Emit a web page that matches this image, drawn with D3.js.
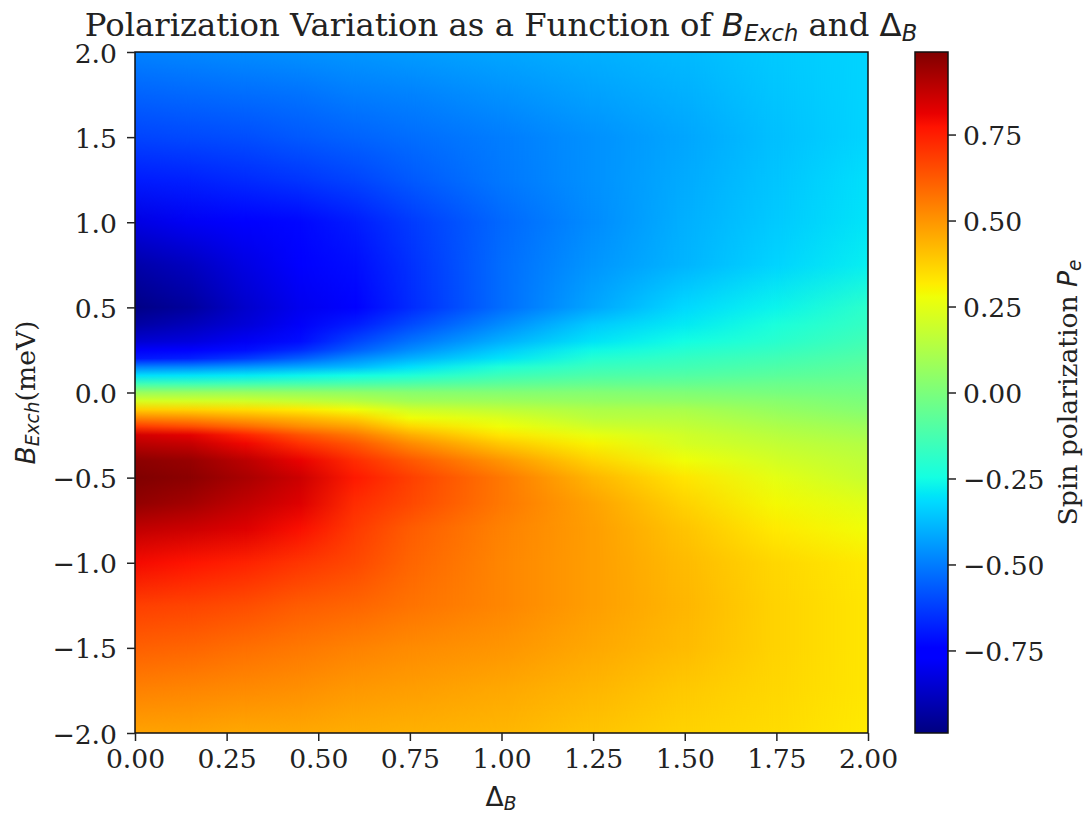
<!DOCTYPE html>
<html>
<head>
<meta charset="utf-8">
<style>
	html, body { margin: 0; padding: 0; background: #fff; }
	svg { display: block; }
	text { font-family: 'DejaVu Serif'; fill: #222; }
	.math { font-family: 'DejaVu Sans'; font-style: italic; }
	.mathup { font-family: 'DejaVu Sans'; }
</style>
<script src="https://cdn.jsdelivr.net/npm/d3@7"></script>
</head>
<body>
<svg width="1087" height="815"></svg>
<script>
const deltaValues = [0, 0.15, 0.3, 0.45, 0.6, 0.75, 1, 1.25, 1.5, 1.75, 2]
const exchValues = [2, 1.75, 1.5, 1.25, 1, 0.75, 0.5, 0.4, 0.3, 0.25, 0.2, 0.15, 0.1, 0.05, 0, -0.05, -0.1, -0.15, -0.2, -0.25, -0.3, -0.4, -0.5, -0.65, -0.8, -1, -1.25, -1.5, -1.75, -2]

// one row per exchValues entry, one column per deltaValues entry
const polarization = [
	[-.49, -.48, -.47, -.46, -.45, -.44, -.42, -.40, -.38, -.35, -.33],
	[-.55, -.54, -.53, -.52, -.50, -.49, -.46, -.43, -.40, -.36, -.33],
	[-.61, -.60, -.59, -.57, -.55, -.53, -.50, -.46, -.42, -.37, -.33],
	[-.69, -.68, -.66, -.64, -.61, -.57, -.51, -.46, -.41, -.36, -.31],
	[-.82, -.79, -.75, -.73, -.69, -.63, -.54, -.47, -.40, -.35, -.30],
	[-.92, -.88, -.82, -.77, -.72, -.65, -.53, -.45, -.39, -.33, -.28],
	[-.98, -.94, -.86, -.80, -.74, -.66, -.53, -.42, -.32, -.27, -.19],
	[-.93, -.89, -.84, -.78, -.69, -.60, -.47, -.35, -.29, -.23, -.17],
	[-.85, -.83, -.79, -.72, -.61, -.52, -.40, -.30, -.25, -.20, -.14],
	[-.78, -.76, -.72, -.66, -.56, -.47, -.35, -.26, -.21, -.17, -.12],
	[-.70, -.68, -.63, -.56, -.47, -.40, -.30, -.21, -.17, -.14, -.10],
	[-.49, -.48, -.45, -.42, -.38, -.31, -.22, -.16, -.14, -.11, -.08],
	[-.31, -.30, -.29, -.27, -.25, -.22, -.15, -.11, -.10, -.08, -.06],
	[-.14, -.14, -.13, -.12, -.11, -.10, -.07, -.05, -.05, -.04, -.04],
	[.07, .07, .07, .06, .05, .03, .02, .02, .01, -.01, -.02],
	[.22, .21, .20, .17, .14, .09, .08, .06, .05, .03, .00],
	[.38, .37, .35, .32, .28, .20, .16, .12, .11, .06, .02],
	[.53, .51, .47, .43, .38, .28, .23, .15, .14, .09, .05],
	[.69, .65, .59, .52, .47, .36, .28, .20, .17, .12, .08],
	[.85, .82, .74, .64, .56, .45, .33, .26, .20, .145, .105],
	[.89, .87, .80, .71, .63, .52, .39, .30, .215, .17, .13],
	[.97, .95, .89, .81, .72, .63, .50, .37, .28, .21, .16],
	[.99, .97, .92, .86, .76, .68, .56, .43, .33, .25, .18],
	[.96, .93, .88, .83, .72, .66, .56, .47, .37, .29, .24],
	[.88, .86, .83, .78, .69, .62, .54, .48, .40, .32, .28],
	[.79, .77, .74, .70, .66, .60, .53, .48, .42, .36, .32],
	[.68, .67, .65, .62, .60, .57, .53, .48, .43, .37, .33],
	[.61, .60, .58, .56, .54, .52, .50, .46, .42, .37, .33],
	[.54, .53, .52, .51, .49, .48, .46, .43, .39, .36, .33],
	[.47, .47, .46, .46, .45, .44, .43, .40, .37, .35, .32]
]

const xTicks = [0, 0.25, 0.5, 0.75, 1, 1.25, 1.5, 1.75, 2]
const yTicks = [-2, -1.5, -1, -0.5, 0, 0.5, 1, 1.5, 2]
const barTicks = [-0.75, -0.5, -0.25, 0, 0.25, 0.5, 0.75]
const barExtent = [-0.99, 0.99]

// matplotlib jet, breakpoints as fractions of the colour range
const jetAt = [0, .11, .125, .34, .35, .375, .64, .65, .66, .89, .91, 1]
const jetColors = ['#000080', '#0000ff', '#0000ff', '#00dbff', '#00e6f7', '#14ffe2', '#efff08', '#f7f600', '#ffec00', '#ff1300', '#e80000', '#800000']

let plot = { left: 135, right: 868, top: 52, bottom: 733 }
let bar = { left: 915, right: 948 }
let tickSize = 8, fontSize = 26.6, subSize = 18.6

let svg = d3.select('svg')
let defs = svg.append('defs')

let scX = d3.scaleLinear().domain([0, 2]).range([plot.left, plot.right])
let scCell = d3.scaleLinear().domain([0, 2]).rangeRound([plot.left, plot.right])
let scY = d3.scaleLinear().domain([-2, 2]).range([plot.bottom, plot.top])
let scBar = d3.scaleLinear().domain(barExtent).range([plot.bottom, plot.top])
let scColor = d3.scaleLinear()
.domain(jetAt.map(t => barExtent[0] + t * (barExtent[1] - barExtent[0])))
.range(jetColors)
.clamp(true)

// vertical gradient for every column of the table
defs.selectAll('linearGradient.col')
.data(deltaValues).enter()
.append('linearGradient')
.attr('class', 'col')
.attr('id', (d, i) => 'col' + i)
.attr('gradientUnits', 'userSpaceOnUse')
.attr('x1', 0).attr('x2', 0)
.attr('y1', plot.top).attr('y2', plot.bottom)
.selectAll('stop')
.data((d, i) => polarization.map((row, r) => ({ b: exchValues[r], v: row[i] })))
.enter()
.append('stop')
.attr('offset', d => (scY(d.b) - plot.top) / (plot.bottom - plot.top))
.attr('stop-color', d => scColor(d.v))

// fade from one column to the next
let ramp = defs.append('linearGradient').attr('id', 'ramp')
ramp.append('stop').attr('offset', 0).attr('stop-color', '#fff').attr('stop-opacity', 0)
ramp.append('stop').attr('offset', 1).attr('stop-color', '#fff').attr('stop-opacity', 1)
defs.append('mask')
.attr('id', 'fade')
.attr('maskContentUnits', 'objectBoundingBox')
.attr('x', 0).attr('y', 0).attr('width', 1).attr('height', 1)
.append('rect')
.attr('width', 1).attr('height', 1)
.attr('fill', 'url(#ramp)')

let spans = d3.pairs(deltaValues.map((d, i) => ({ d, i })))
let heat = svg.append('g').attr('shape-rendering', 'crispEdges')

heat.selectAll('rect.base')
.data(spans).enter()
.append('rect')
.attr('class', 'base')
.attr('x', d => scCell(d[0].d))
.attr('y', plot.top)
.attr('width', d => scCell(d[1].d) - scCell(d[0].d))
.attr('height', plot.bottom - plot.top)
.attr('fill', d => `url(#col${d[0].i})`)

heat.selectAll('rect.over')
.data(spans).enter()
.append('rect')
.attr('class', 'over')
.attr('x', d => scCell(d[0].d))
.attr('y', plot.top)
.attr('width', d => scCell(d[1].d) - scCell(d[0].d))
.attr('height', plot.bottom - plot.top)
.attr('fill', d => `url(#col${d[1].i})`)
.attr('mask', 'url(#fade)')

// colour bar
let barGrad = defs.append('linearGradient')
.attr('id', 'barGrad')
.attr('x1', 0).attr('x2', 0).attr('y1', 1).attr('y2', 0)
barGrad.selectAll('stop')
.data(jetAt).enter()
.append('stop')
.attr('offset', d => d)
.attr('stop-color', (d, i) => jetColors[i])

svg.append('rect')
.attr('x', bar.left).attr('y', plot.top)
.attr('width', bar.right - bar.left)
.attr('height', plot.bottom - plot.top)
.attr('fill', 'url(#barGrad)')
.attr('stroke', '#111')
.attr('stroke-width', 1.5)

svg.append('rect')
.attr('x', plot.left).attr('y', plot.top)
.attr('width', plot.right - plot.left)
.attr('height', plot.bottom - plot.top)
.attr('fill', 'none')
.attr('stroke', '#111')
.attr('stroke-width', 1.5)

let minus = s => s.replace('-', '\u2212')

let axisStyle = g => {
	g.select('.domain').remove()
	g.selectAll('.tick line').attr('stroke', '#222').attr('stroke-width', 1.5)
	g.selectAll('.tick text').attr('font-size', fontSize).attr('font-family', 'DejaVu Serif').attr('fill', '#222')
}

svg.append('g')
.attr('transform', `translate(0,${plot.bottom})`)
.call(d3.axisBottom(scX).tickValues(xTicks).tickSize(tickSize).tickPadding(8).tickFormat(d3.format('.2f')))
.call(axisStyle)

svg.append('g')
.attr('transform', `translate(${plot.left},0)`)
.call(d3.axisLeft(scY).tickValues(yTicks).tickSize(tickSize).tickPadding(10).tickFormat(d => minus(d3.format('.1f')(d))))
.call(axisStyle)
.call(g => g.selectAll('.tick text').attr('dy', '.38em'))

svg.append('g')
.attr('transform', `translate(${bar.right},0)`)
.call(d3.axisRight(scBar).tickValues(barTicks).tickSize(tickSize).tickPadding(7).tickFormat(d => minus(d3.format('.2f')(d))))
.call(axisStyle)
.call(g => g.selectAll('.tick text').attr('dy', '.38em'))

// title and labels, with the mathtext pieces as tspans
let title = svg.append('text')
.attr('x', 501).attr('y', 36)
.attr('text-anchor', 'middle')
.attr('font-size', 32.3)
title.append('tspan').text('Polarization Variation as a Function of ')
title.append('tspan').attr('class', 'math').text('B')
title.append('tspan').attr('class', 'math').attr('font-size', 22.6).attr('dy', 5).text('Exch')
title.append('tspan').attr('dy', -5).text(' and ')
title.append('tspan').attr('class', 'mathup').text('\u0394')
title.append('tspan').attr('class', 'math').attr('font-size', 22.6).attr('dy', 5).text('B')

let xLabel = svg.append('text')
.attr('x', 501).attr('y', 806)
.attr('text-anchor', 'middle')
.attr('font-size', fontSize)
xLabel.append('tspan').attr('class', 'mathup').text('\u0394')
xLabel.append('tspan').attr('class', 'math').attr('font-size', subSize).attr('dy', 4).text('B')

let yLabel = svg.append('text')
.attr('transform', `translate(34.5,${(plot.top + plot.bottom) / 2}) rotate(-90)`)
.attr('text-anchor', 'middle')
.attr('font-size', fontSize)
yLabel.append('tspan').attr('class', 'math').text('B')
yLabel.append('tspan').attr('class', 'math').attr('font-size', subSize).attr('dy', 4).text('Exch')
yLabel.append('tspan').attr('dy', -4).text('(meV)')

let barLabel = svg.append('text')
.attr('transform', `translate(1077,${(plot.top + plot.bottom) / 2}) rotate(-90)`)
.attr('text-anchor', 'middle')
.attr('font-size', fontSize)
barLabel.append('tspan').text('Spin polarization ')
barLabel.append('tspan').attr('class', 'math').text('P')
barLabel.append('tspan').attr('class', 'math').attr('font-size', subSize).attr('dy', 4).text('e')
</script>
</body>
</html>
